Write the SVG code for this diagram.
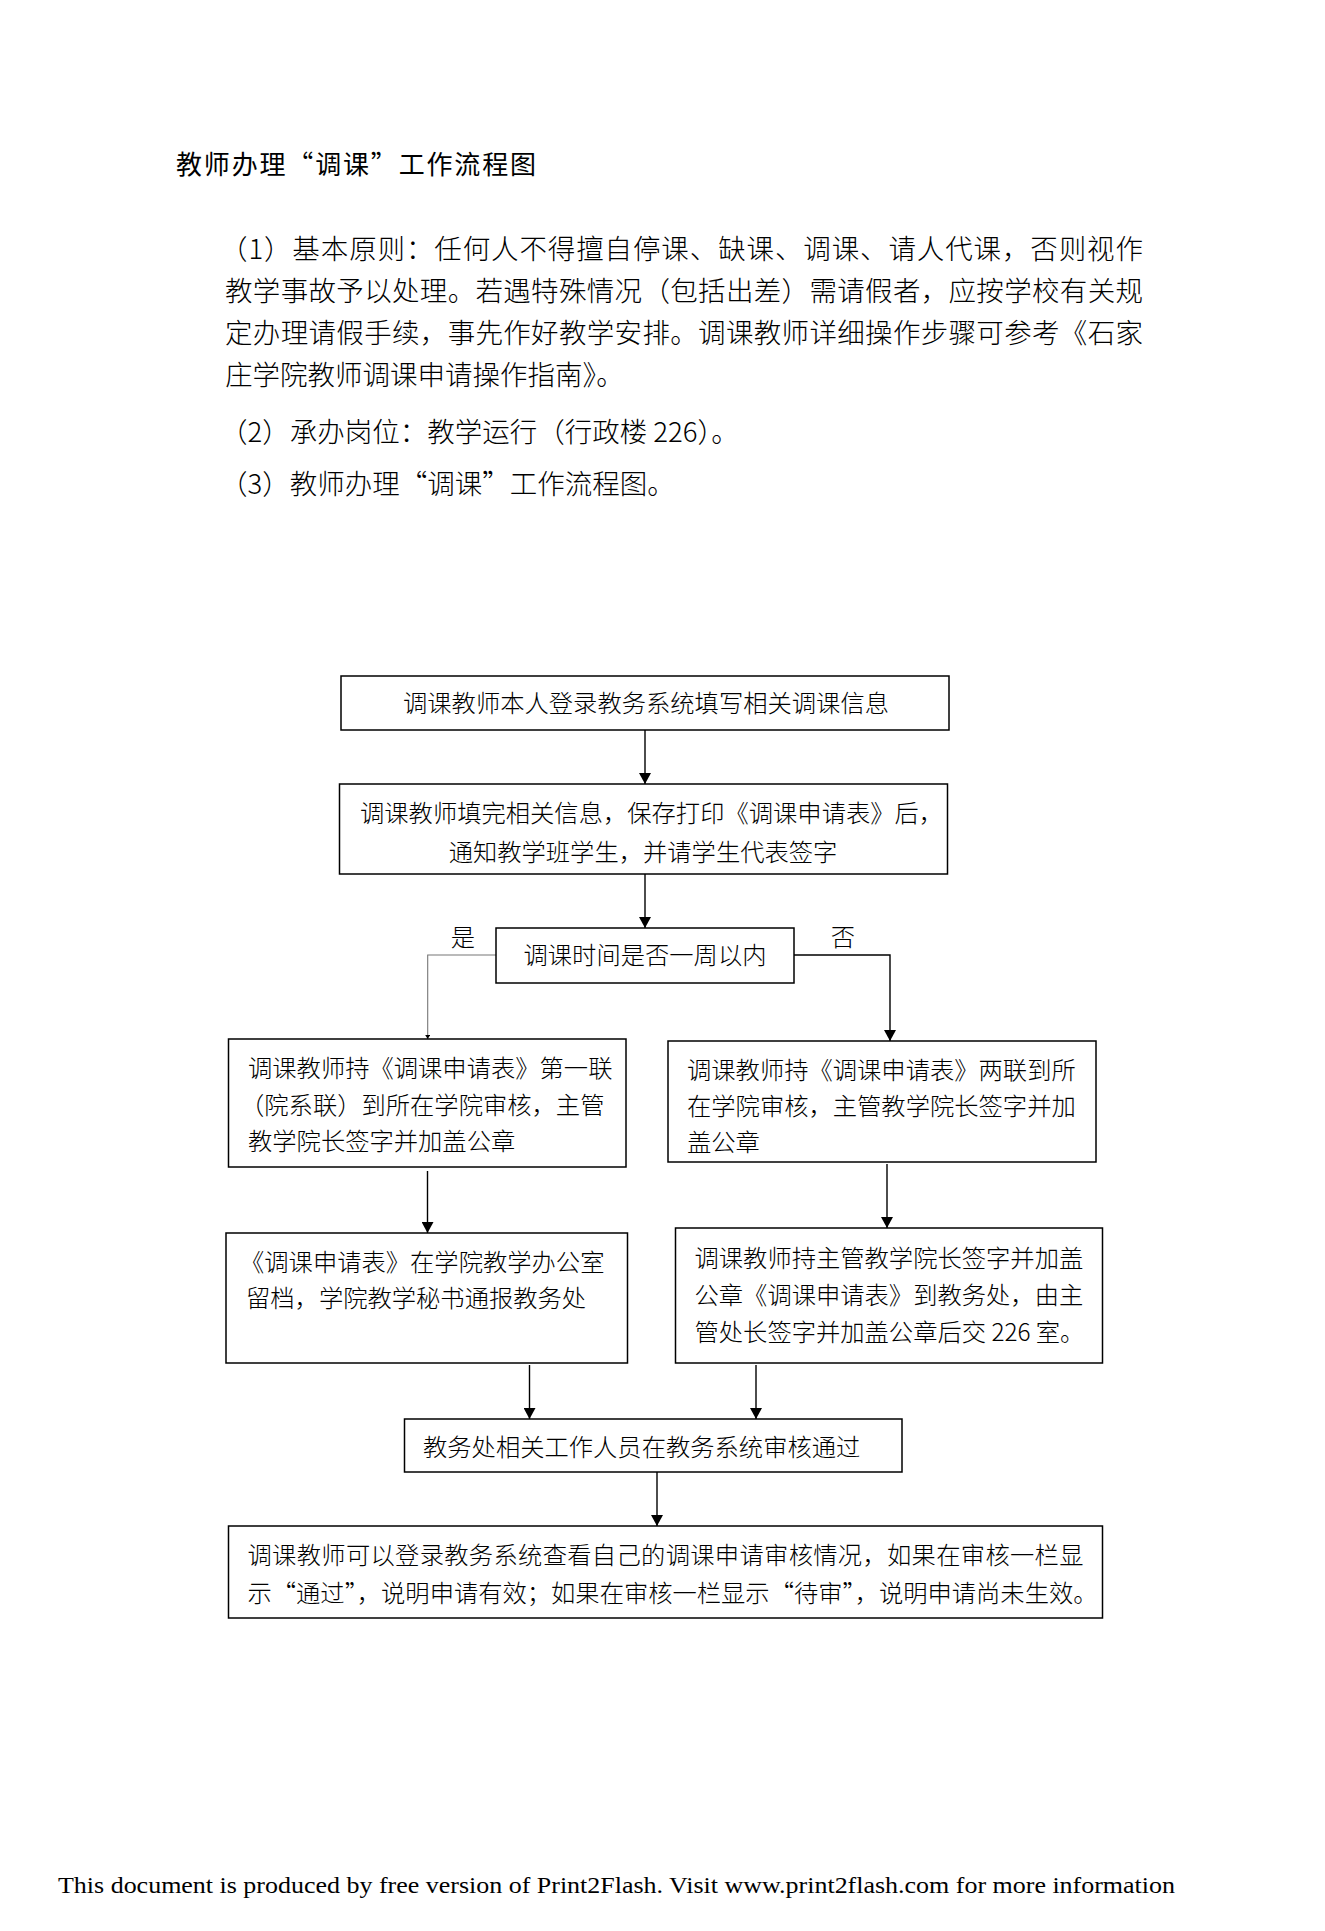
<svg xmlns="http://www.w3.org/2000/svg" width="1325" height="1931" viewBox="0 0 1325 1931">
<style>
.t{font-family:"Noto Sans CJK SC","Liberation Sans",sans-serif;fill:#000;}
.title{font-size:26px;}
.para{font-size:27.5px;font-weight:300;}
.bx{font-size:24.3px;font-weight:300;}
.node rect{fill:#fff;stroke:#000;stroke-width:1.5;}
.conn line,.conn polyline{fill:none;stroke:#000;stroke-width:1.4;}
.foot{font-family:"Liberation Serif","Times New Roman",serif;font-size:23.5px;fill:#000;}
</style>
<defs>
<marker id="ah" markerUnits="userSpaceOnUse" markerWidth="14" markerHeight="12" refX="12" refY="6.5" orient="auto" viewBox="0 0 13 13">
<path d="M0,0 L12,6.5 L0,13 Z" fill="#000"/>
</marker>
<marker id="ahs" markerUnits="userSpaceOnUse" markerWidth="5" markerHeight="5" refX="4" refY="2.5" orient="auto" viewBox="0 0 5 5">
<path d="M0,0 L4,2.5 L0,5 Z" fill="#000"/>
</marker>
</defs>
<rect width="1325" height="1931" fill="#fff"/>

<g id="header">
<text class="t title" x="176" y="174" textLength="360">教师办理“调课”工作流程图</text>
<text class="t para" x="220" y="259" textLength="923" lengthAdjust="spacing">（1）基本原则：任何人不得擅自停课、缺课、调课、请人代课，否则视作</text>
<text class="t para" x="225" y="301" textLength="918" lengthAdjust="spacing">教学事故予以处理。若遇特殊情况（包括出差）需请假者，应按学校有关规</text>
<text class="t para" x="225" y="343" textLength="918" lengthAdjust="spacing">定办理请假手续，事先作好教学安排。调课教师详细操作步骤可参考《石家</text>
<text class="t para" x="225" y="385">庄学院教师调课申请操作指南》。</text>
<text class="t para" x="220" y="442">（2）承办岗位：教学运行（行政楼 226）。</text>
<text class="t para" x="220" y="494">（3）教师办理“调课”工作流程图。</text>
</g>

<g class="conn" id="connectors">
<line x1="645" y1="730" x2="645" y2="784" marker-end="url(#ah)"/>
<line x1="645" y1="874" x2="645" y2="928" marker-end="url(#ah)"/>
<polyline points="496,955 427.7,955 427.7,1039" style="stroke:#777;stroke-width:1.1" marker-end="url(#ahs)"/>
<polyline points="794,955 890,955 890,1041" marker-end="url(#ah)"/>
<line x1="427.5" y1="1171" x2="427.5" y2="1233" marker-end="url(#ah)"/>
<line x1="887" y1="1164" x2="887" y2="1228" marker-end="url(#ah)"/>
<line x1="529.5" y1="1365" x2="529.5" y2="1419" marker-end="url(#ah)"/>
<line x1="756" y1="1365" x2="756" y2="1419" marker-end="url(#ah)"/>
<line x1="657" y1="1472" x2="657" y2="1526" marker-end="url(#ah)"/>
<text class="t bx" x="463" y="945.5" text-anchor="middle">是</text>
<text class="t bx" x="843" y="945.5" text-anchor="middle">否</text>
</g>

<g class="node" id="n1">
<rect x="341" y="676" width="608" height="54"/>
<text class="t bx" x="403" y="711.5" textLength="486">调课教师本人登录教务系统填写相关调课信息</text>
</g>
<g class="node" id="n2">
<rect x="339.5" y="784" width="608" height="90"/>
<text class="t bx" x="360" y="821.5">调课教师填完相关信息，保存打印《调课申请表》后，</text>
<text class="t bx" x="643" y="860.5" text-anchor="middle">通知教学班学生，并请学生代表签字</text>
</g>
<g class="node" id="n3">
<rect x="496" y="928" width="298" height="55"/>
<text class="t bx" x="645" y="963.5" text-anchor="middle">调课时间是否一周以内</text>
</g>
<g class="node" id="n4">
<rect x="228.5" y="1039" width="397.5" height="128"/>
<text class="t bx" x="248" y="1076.5">调课教师持《调课申请表》第一联</text>
<text class="t bx" x="240" y="1113.5">（院系联）到所在学院审核，主管</text>
<text class="t bx" x="248" y="1149.5">教学院长签字并加盖公章</text>
</g>
<g class="node" id="n5">
<rect x="668" y="1041" width="428" height="121"/>
<text class="t bx" x="687" y="1078.5">调课教师持《调课申请表》两联到所</text>
<text class="t bx" x="687" y="1114.5">在学院审核，主管教学院长签字并加</text>
<text class="t bx" x="687" y="1150.5">盖公章</text>
</g>
<g class="node" id="n6">
<rect x="226" y="1233" width="401.5" height="130"/>
<text class="t bx" x="240" y="1270.5">《调课申请表》在学院教学办公室</text>
<text class="t bx" x="246" y="1306.5">留档，学院教学秘书通报教务处</text>
</g>
<g class="node" id="n7">
<rect x="675.5" y="1228" width="427" height="135"/>
<text class="t bx" x="694.5" y="1266.5">调课教师持主管教学院长签字并加盖</text>
<text class="t bx" x="694.5" y="1303.5">公章《调课申请表》到教务处，由主</text>
<text class="t bx" x="694.5" y="1340.5">管处长签字并加盖公章后交 226 室。</text>
</g>
<g class="node" id="n8">
<rect x="404.5" y="1419" width="497.5" height="53"/>
<text class="t bx" x="423" y="1455.5">教务处相关工作人员在教务系统审核通过</text>
</g>
<g class="node" id="n9">
<rect x="228.5" y="1526" width="874" height="92"/>
<text class="t bx" x="247.5" y="1563.5" textLength="836" lengthAdjust="spacing">调课教师可以登录教务系统查看自己的调课申请审核情况，如果在审核一栏显</text>
<text class="t bx" x="247.5" y="1601.5" textLength="850" lengthAdjust="spacing">示“通过”，说明申请有效；如果在审核一栏显示“待审”，说明申请尚未生效。</text>
</g>

<text class="foot" x="58" y="1893" textLength="1117" lengthAdjust="spacingAndGlyphs">This document is produced by free version of Print2Flash. Visit www.print2flash.com for more information</text>
</svg>
